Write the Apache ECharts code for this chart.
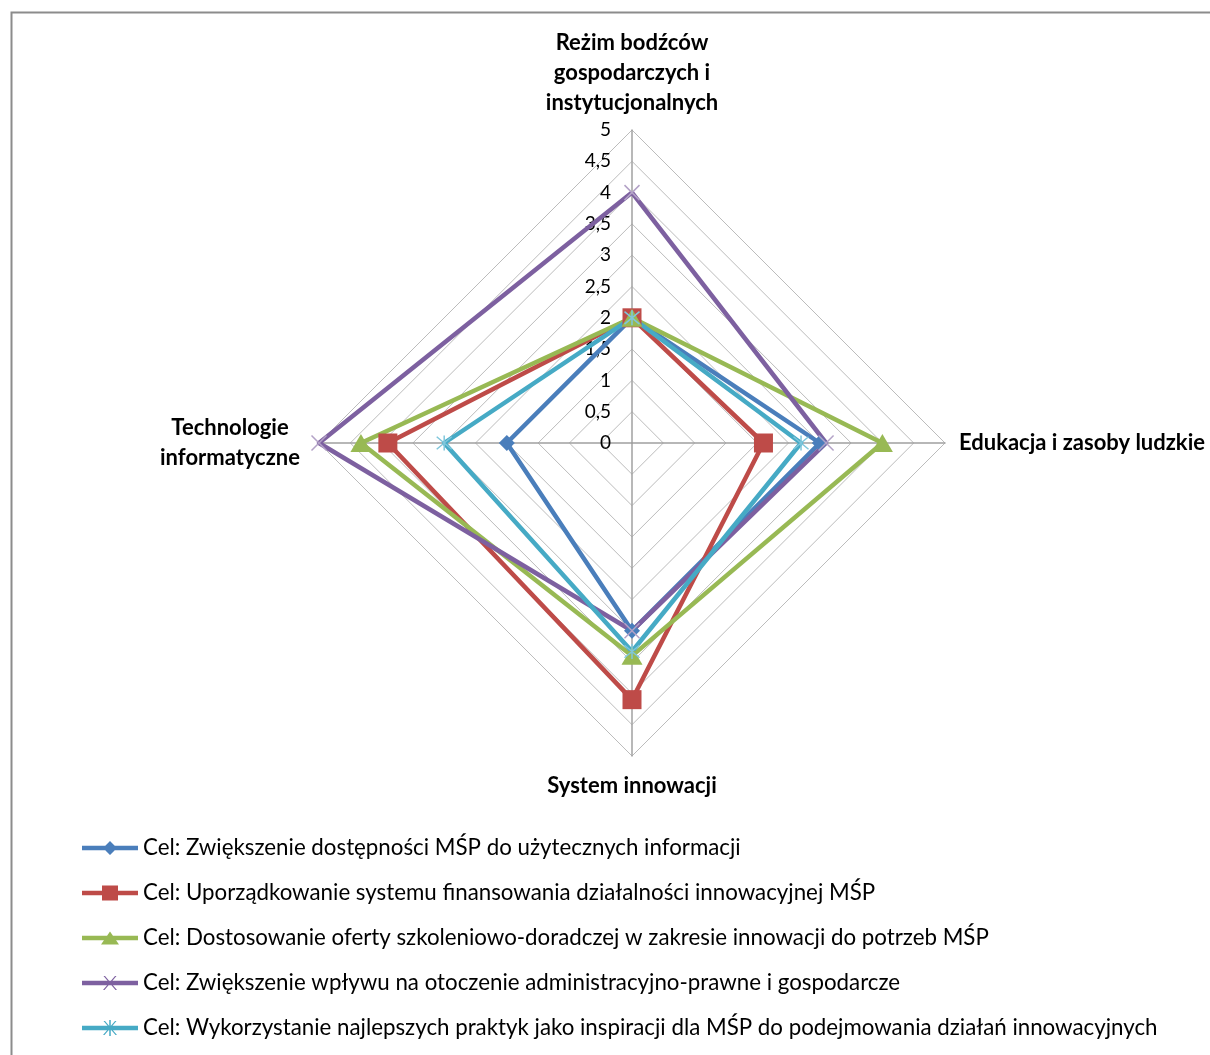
<!DOCTYPE html>
<html>
<head>
<meta charset="utf-8">
<script src="https://cdn.jsdelivr.net/npm/echarts@6/dist/echarts.min.js"></script>
<style>
  html, body { margin: 0; padding: 0; background: #fff; }
  #chart { width: 1210px; height: 1055px; }
</style>
</head>
<body>
<div id="chart"></div>
<script>
// Axes listed clockwise from the top
const axisNames = [
  'Reżim bodźców\ngospodarczych i\ninstytucjonalnych',
  'Edukacja i zasoby ludzkie',
  'System innowacji',
  'Technologie\ninformatyczne'
];
const tickLabels = ['0', '0,5', '1', '1,5', '2', '2,5', '3', '3,5', '4', '4,5', '5'];

const seriesNames = [
  'Cel: Zwiększenie dostępności MŚP do użytecznych informacji',
  'Cel: Uporządkowanie systemu finansowania działalności innowacyjnej MŚP',
  'Cel: Dostosowanie oferty szkoleniowo-doradczej w zakresie innowacji do potrzeb MŚP',
  'Cel: Zwiększenie wpływu na otoczenie administracyjno-prawne i gospodarcze',
  'Cel: Wykorzystanie najlepszych praktyk jako inspiracji dla MŚP do podejmowania działań innowacyjnych'
];

// Scores per axis (same clockwise order as axisNames)
const dostepnoscInformacji = [2, 3, 3, 2];
const systemFinansowania   = [2, 2.1, 4.1, 3.9];
const ofertaSzkoleniowa    = [2, 4, 3.4, 4.33];
const otoczeniePrawne      = [4, 3.1, 3, 5];
const najlepszePraktyki    = [2, 2.7, 3.33, 3];

const seriesValues = [dostepnoscInformacji, systemFinansowania, ofertaSzkoleniowa, otoczeniePrawne, najlepszePraktyki];

const lineColors   = ['#4A7EBB', '#BE4B48', '#98B954', '#7D60A0', '#46AAC5'];
const markerColors = ['#4A7EBB', '#BE4B48', '#98B954', '#B3A2C7', '#7FC6DB'];

const FONT = 'Lato, "Liberation Sans", sans-serif';

// ECharts lays radar indicators out counter-clockwise, so reorder: top, left, bottom, right
const order = [0, 3, 2, 1];
// gap between each axis end and its name (clockwise order)
const nameGaps = [12, 14, 15, 17];

const crossPath = 'path://M0,0L10,10M10,0L0,10';
const starPath = 'path://M0,0L10,10M10,0L0,10M5,-1L5,11';
const markerSymbols = ['diamond', 'rect', 'triangle', crossPath, starPath];
const markerSizes = [16, 19, [21, 18], 15, 15];

// Legend keys: line with the series marker in the middle (56 x 16 box)
const bar = 'M0,5.75L56,5.75L56,10.25L0,10.25Z';
const legendIcons = [
  'path://' + bar + 'M28,1L35,8L28,15L21,8Z',
  'path://' + bar + 'M20,0.5L36,0.5L36,15.5L20,15.5Z',
  'path://' + bar + 'M28,1.5L37,14.5L19,14.5Z',
  'path://' + bar + 'M21.5,1L23,1L35,15L33.5,15ZM33,1L34.5,1L22.5,15L21,15Z',
  'path://' + bar + 'M21.5,1L23,1L35,15L33.5,15ZM33,1L34.5,1L22.5,15L21,15ZM27.25,0L28.75,0L28.75,16L27.25,16Z'
];

const indicators = order.map(function (i, k) {
  const ind = { name: axisNames[i], min: 0, max: 5, nameGap: nameGaps[i] };
  if (k === 0) {
    ind.axisLabel = {
      show: true,
      color: '#000',
      fontSize: 19,
      fontFamily: FONT,
      margin: 21,
      formatter: function (v) { return tickLabels[Math.round(v / 0.5)]; }
    };
  }
  return ind;
});

const chart = echarts.init(document.getElementById('chart'), null, { renderer: 'canvas' });

chart.setOption({
  backgroundColor: '#fff',
  animation: false,
  graphic: [{
    type: 'rect',
    left: 9, top: 10,
    shape: { width: 1215, height: 1060 },
    style: { fill: 'none', stroke: '#8c8c8c', lineWidth: 2 },
    silent: true
  }],
  legend: {
    orient: 'vertical',
    left: 82,
    top: 837,
    padding: 0,
    itemWidth: 56,
    itemHeight: 16,
    itemGap: 23,
    align: 'left',
    selectedMode: false,
    itemStyle: { borderWidth: 0 },
    textStyle: { color: '#000', fontSize: 22.3, fontFamily: FONT, lineHeight: 20 },
    data: seriesNames.map(function (n, i) {
      return { name: n, icon: legendIcons[i], itemStyle: { color: lineColors[i], borderWidth: 0 } };
    })
  },
  radar: {
    center: [632, 443],
    radius: 313,
    startAngle: 90,
    shape: 'polygon',
    splitNumber: 10,
    indicator: indicators,
    axisName: {
      color: '#000',
      fontSize: 22,
      fontWeight: 'bold',
      fontFamily: FONT,
      lineHeight: 30,
      formatter: function (name) {
        if (name.indexOf('Technologie') === 0) {
          return name.split('\n').map(function (s) { return '{l|' + s + '}'; }).join('\n');
        }
        return name;
      },
      rich: {
        l: { width: 144, align: 'center', color: '#000', fontSize: 22, fontWeight: 'bold', fontFamily: FONT, lineHeight: 30 }
      }
    },
    axisLine: { lineStyle: { color: '#a0a0a0', width: 1.5 } },
    axisTick: { show: false },
    splitLine: { lineStyle: { color: '#bcbcbc', width: 1 } },
    splitArea: { show: false },
    axisLabel: { show: false }
  },
  series: [{
    type: 'radar',
    data: seriesNames.map(function (n, i) {
      return {
        name: n,
        value: order.map(function (j) { return seriesValues[i][j]; }),
        symbol: markerSymbols[i],
        symbolSize: markerSizes[i],
        lineStyle: { color: lineColors[i], width: 4.5 },
        itemStyle: i >= 3
          ? { color: markerColors[i], borderColor: markerColors[i], borderWidth: 1.5 }
          : { color: markerColors[i], borderWidth: 0 }
      };
    })
  }]
});
</script>
</body>
</html>
